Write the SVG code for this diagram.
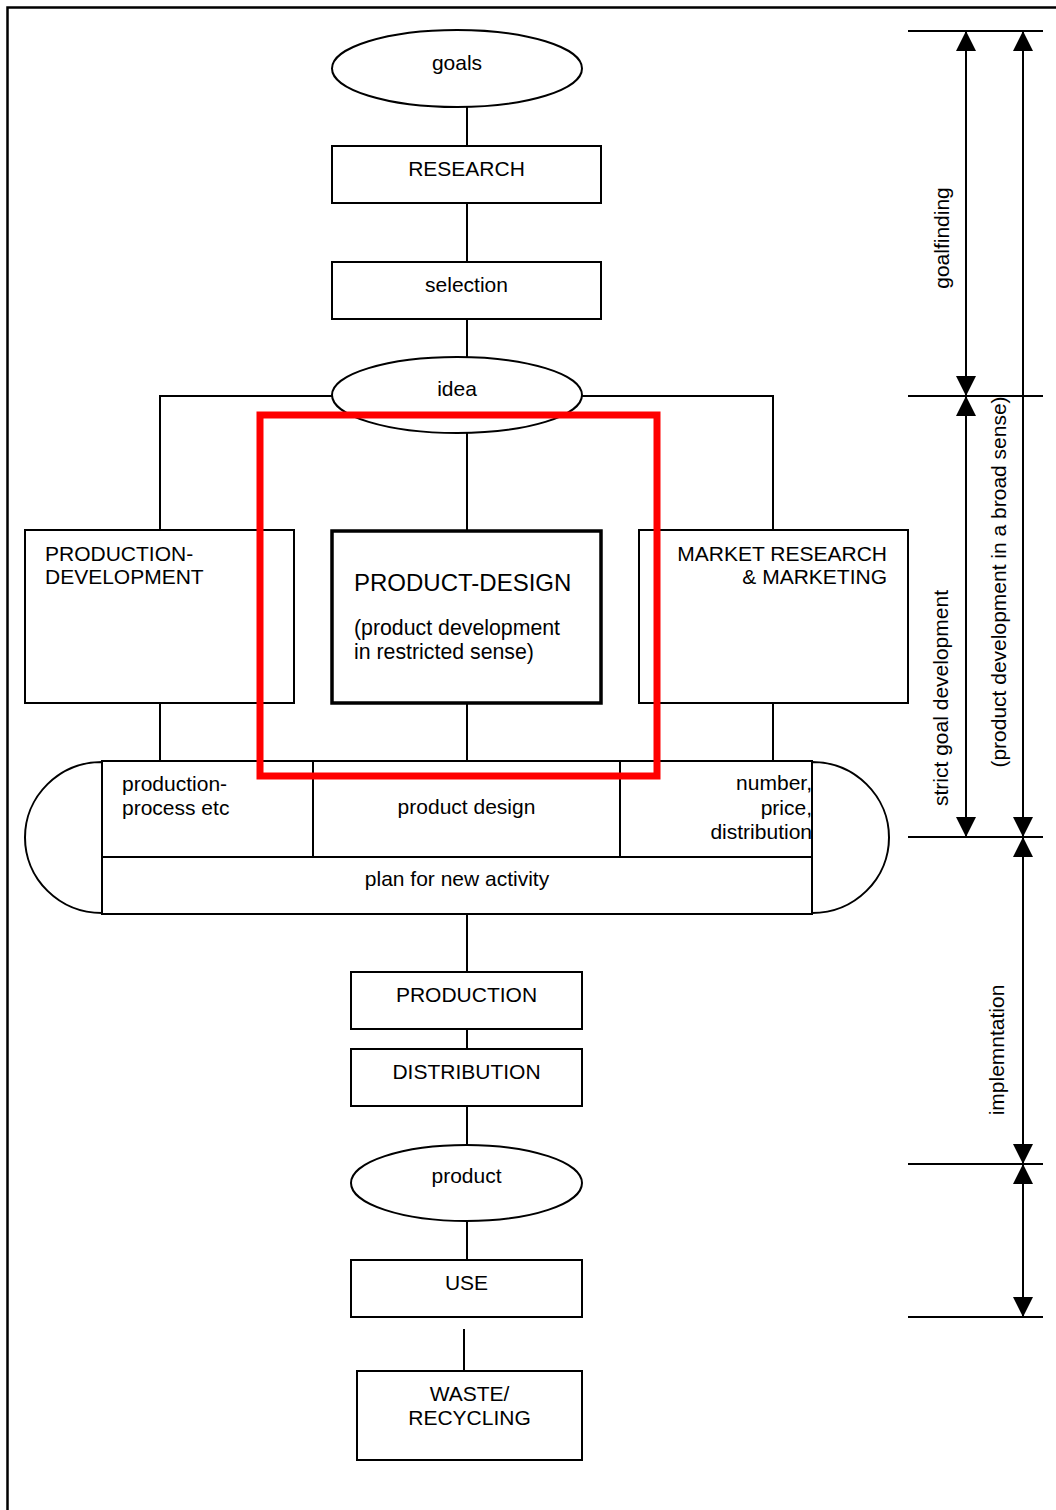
<svg xmlns="http://www.w3.org/2000/svg" width="1056" height="1510" viewBox="0 0 1056 1510">
<style>
  .s{fill:#fff;stroke:#000;stroke-width:2}
  .b{fill:#fff;stroke:#000;stroke-width:3.5}
  .c{fill:none;stroke:#000;stroke-width:2}
  .d{fill:none;stroke:#000;stroke-width:2.2}
  text{font-family:"Liberation Sans",Arial,sans-serif;font-size:21px;fill:#000}
  .m{text-anchor:middle}
  .e{text-anchor:end}
  .big{font-size:24px}
  .sub{font-size:21.3px}
</style>
<defs>
  <marker id="ah" viewBox="0 0 20 20" refX="20" refY="10" markerWidth="20" markerHeight="20" markerUnits="userSpaceOnUse" orient="auto-start-reverse">
    <path d="M0,0 L20,10 L0,20 z" fill="#000"/>
  </marker>
</defs>
<rect width="1056" height="1510" fill="#fff"/>
<path d="M7.5,1510 V7.5 H1056" fill="none" stroke="#000" stroke-width="2.5"/>

<g id="connectors">
  <path class="c" d="M467,107 V146 M467,203 V262 M467,319 V357"/>
  <path class="c" d="M332,396 H160 V530 M582,396 H773 V530 M467,433 V530"/>
  <path class="c" d="M160,703 V761 M467,703 V761 M773,703 V761"/>
  <path class="c" d="M467,914 V972 M467,1029 V1049 M467,1106 V1145 M467,1221 V1260 M464,1329 V1371"/>
</g>

<g id="goals"><ellipse class="s" cx="457" cy="68.5" rx="125" ry="38.5"/><text class="m" x="457" y="70">goals</text></g>
<g id="research"><rect class="s" x="332" y="146" width="269" height="57"/><text class="m" x="466.5" y="176">RESEARCH</text></g>
<g id="selection"><rect class="s" x="332" y="262" width="269" height="57"/><text class="m" x="466.5" y="292">selection</text></g>
<g id="idea"><ellipse class="s" cx="457" cy="395" rx="125" ry="38"/><text class="m" x="457" y="396">idea</text></g>

<g id="production-development"><rect class="s" x="25" y="530" width="269" height="173"/><text x="45" y="561">PRODUCTION-</text><text x="45" y="584">DEVELOPMENT</text></g>
<g id="product-design"><rect class="b" x="332" y="531" width="269" height="172"/><text class="big" x="354" y="591">PRODUCT-DESIGN</text><text class="sub" x="354" y="635">(product development</text><text class="sub" x="354" y="659">in restricted sense)</text></g>
<g id="market-research"><rect class="s" x="639" y="530" width="269" height="173"/><text class="e" x="887" y="561">MARKET RESEARCH</text><text class="e" x="887" y="584">&amp; MARKETING</text></g>

<g id="plan">
  <path class="s" d="M102,762 A77,75.5 0 0 0 102,913 Z"/>
  <path class="s" d="M812,762 A77,75.5 0 0 1 812,913 Z"/>
  <rect class="s" x="102" y="761" width="710" height="153"/>
  <path class="c" d="M102,857 H812 M313,761 V857 M620,761 V857"/>
  <text x="122" y="791">production-</text><text x="122" y="815">process etc</text>
  <text class="m" x="466.5" y="814">product design</text>
  <text class="e" x="812" y="790">number,</text><text class="e" x="812" y="815">price,</text><text class="e" x="812" y="839">distribution</text>
  <text class="m" x="457" y="886">plan for new activity</text>
</g>

<g id="production"><rect class="s" x="351" y="972" width="231" height="57"/><text class="m" x="466.5" y="1002">PRODUCTION</text></g>
<g id="distribution"><rect class="s" x="351" y="1049" width="231" height="57"/><text class="m" x="466.5" y="1079">DISTRIBUTION</text></g>
<g id="product"><ellipse class="s" cx="466.5" cy="1183" rx="115.5" ry="38"/><text class="m" x="466.5" y="1183">product</text></g>
<g id="use"><rect class="s" x="351" y="1260" width="231" height="57"/><text class="m" x="466.5" y="1290">USE</text></g>
<g id="waste"><rect class="s" x="357" y="1371" width="225" height="89"/><text class="m" x="469.5" y="1401">WASTE/</text><text class="m" x="469.5" y="1425">RECYCLING</text></g>

<g id="highlight"><rect x="260" y="415" width="397" height="361" fill="none" stroke="#ff0000" stroke-width="7"/></g>

<g id="phases">
  <path class="d" d="M908,31 H1043 M908,396 H1043 M908,837 H1043 M908,1164 H1043 M908,1317 H1043"/>
  <line class="c" x1="966" y1="31" x2="966" y2="396" marker-start="url(#ah)" marker-end="url(#ah)"/>
  <line class="c" x1="966" y1="396" x2="966" y2="837" marker-start="url(#ah)" marker-end="url(#ah)"/>
  <line class="c" x1="1023" y1="31" x2="1023" y2="837" marker-start="url(#ah)" marker-end="url(#ah)"/>
  <line class="c" x1="1023" y1="837" x2="1023" y2="1164" marker-start="url(#ah)" marker-end="url(#ah)"/>
  <line class="c" x1="1023" y1="1164" x2="1023" y2="1317" marker-start="url(#ah)" marker-end="url(#ah)"/>
  <text class="m" transform="translate(949,238) rotate(-90)">goalfinding</text>
  <text class="m" transform="translate(948,698) rotate(-90)">strict goal development</text>
  <text class="m" transform="translate(1006,582) rotate(-90)">(product development in a broad sense)</text>
  <text class="m" transform="translate(1004,1050) rotate(-90)">implemntation</text>
</g>
</svg>
